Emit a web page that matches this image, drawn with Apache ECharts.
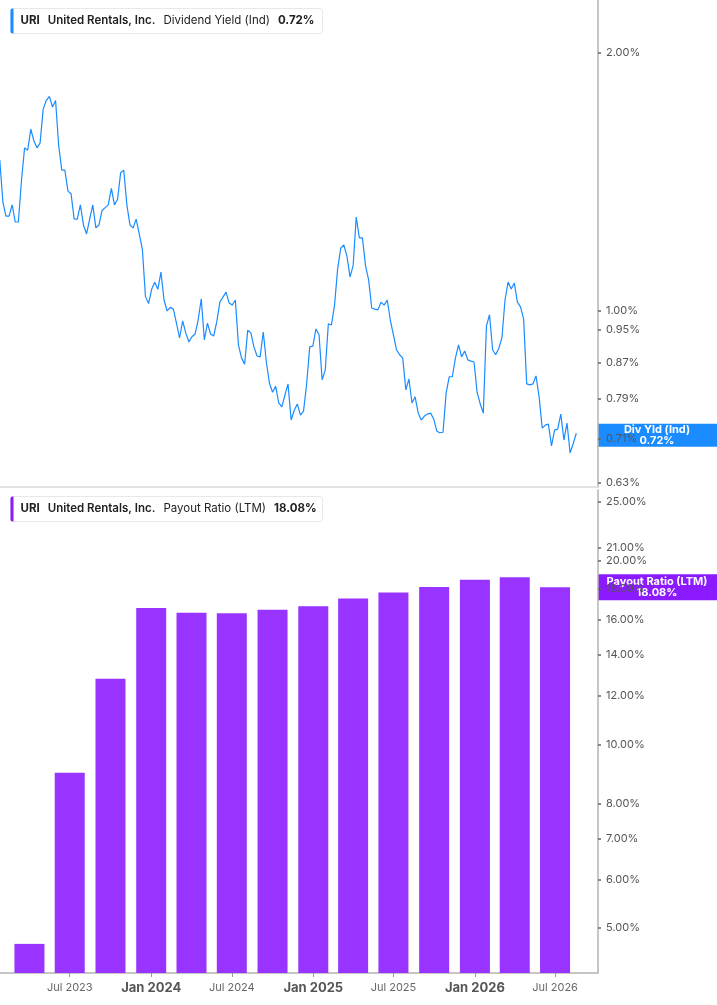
<!DOCTYPE html>
<html>
<head>
<meta charset="utf-8">
<script src="https://cdn.jsdelivr.net/npm/echarts@6/dist/echarts.min.js"></script>
<style>
  html, body { margin: 0; padding: 0; background: #fff; }
  #main { width: 717px; height: 1005px; }
</style>
</head>
<body>
<div id="main"></div>
<script>
// 股息率 (Ind)，每周一个点，从 2023-01-24 起
const yieldStart = '2023-01-24';
const yieldValues = [
  1.50, 1.34, 1.29, 1.29, 1.33, 1.27, 1.27, 1.42, 1.55, 1.54,
  1.63, 1.58, 1.55, 1.57, 1.72, 1.76, 1.78, 1.73, 1.76, 1.56,
  1.46, 1.46, 1.38, 1.37, 1.28, 1.28, 1.33, 1.26, 1.23, 1.28,
  1.33, 1.25, 1.26, 1.31, 1.32, 1.33, 1.39, 1.33, 1.35, 1.45,
  1.46, 1.33, 1.26, 1.25, 1.28, 1.23, 1.18, 1.04, 1.02, 1.06,
  1.08, 1.06, 1.11, 1.03, 1.00, 1.01, 1.005, 0.968, 0.930, 0.974,
  0.943, 0.920, 0.933, 0.940, 0.976, 1.033, 0.925, 0.968, 0.940, 0.935,
  0.971, 1.024, 1.038, 1.052, 1.022, 1.016, 1.030, 0.913, 0.881, 0.867,
  0.950, 0.943, 0.908, 0.886, 0.884, 0.945, 0.872, 0.824, 0.804, 0.817,
  0.781, 0.773, 0.798, 0.822, 0.746, 0.766, 0.779, 0.756, 0.764, 0.822,
  0.908, 0.910, 0.953, 0.938, 0.831, 0.853, 0.966, 0.963, 1.016, 1.119,
  1.184, 1.194, 1.159, 1.096, 1.129, 1.287, 1.217, 1.217, 1.129, 1.087,
  1.008, 1.005, 1.003, 1.024, 1.016, 1.030, 0.976, 0.938, 0.901, 0.889,
  0.881, 0.809, 0.833, 0.781, 0.794, 0.760, 0.746, 0.754, 0.758, 0.760,
  0.748, 0.724, 0.721, 0.722, 0.802, 0.838, 0.838, 0.881, 0.913, 0.884,
  0.898, 0.877, 0.874, 0.872, 0.804, 0.779, 0.760, 0.960, 0.990, 0.901,
  0.889, 0.905, 0.930, 1.030, 1.081, 1.061, 1.078, 1.024, 1.011, 0.979,
  0.822, 0.820, 0.822, 0.840, 0.794, 0.730, 0.736, 0.738, 0.696, 0.726,
  0.728, 0.758, 0.707, 0.740, 0.683, 0.700, 0.72
];

// 派息率 (LTM)，季度
const payoutDates = [
  '2023-04-01', '2023-07-01', '2023-10-01', '2024-01-01', '2024-04-01',
  '2024-07-01', '2024-10-01', '2025-01-01', '2025-04-01', '2025-07-01',
  '2025-10-01', '2026-01-01', '2026-04-01', '2026-07-01'
];
const payoutValues = [
  4.71, 8.98, 12.81, 16.73, 16.42, 16.39, 16.62,
  16.83, 17.33, 17.73, 18.11, 18.60, 18.78, 18.08
];

// 刻度
const yieldTicks = [2.00, 1.00, 0.95, 0.87, 0.79, 0.71, 0.63];
const payoutTicks = [25, 21, 20, 18, 16, 14, 12, 10, 8, 7, 6, 5];
const timeTicks = [
  '2023-07-01', '2024-01-01', '2024-07-01', '2025-01-01',
  '2025-07-01', '2026-01-01', '2026-07-01'
];
const monthNames = ['Jan', 'Feb', 'Mar', 'Apr', 'May', 'Jun', 'Jul', 'Aug', 'Sep', 'Oct', 'Nov', 'Dec'];

const lastYield = 0.72;
const lastPayout = 18.08;

const BLUE = '#1a8cff';
const PURPLE = '#9933ff';
const PURPLE_DARK = '#8c1aff';
const FONT = 'Inter, "Noto Sans", sans-serif';

const xMin = '2023-01-24 12:00';
const xMax = '2026-10-06';

let chart = echarts.init(document.getElementById('main'));

function ts(d) {
  return echarts.time.parse(d).getTime();
}

function yieldData() {
  let start = ts(yieldStart);
  let list = [];
  for (let i = 0; i < yieldValues.length; i++) {
    list.push([start + i * 7 * 86400000, yieldValues[i]]);
  }
  return list;
}

function pctLabel(v) {
  return Number(v).toFixed(2) + '%';
}

function rightAxis(gridIndex, min, max, ticks) {
  return {
    type: 'log',
    gridIndex: gridIndex,
    position: 'right',
    min: min,
    max: max,
    axisLine: { show: true, lineStyle: { color: '#b3b3b3', width: 1.5 } },
    axisTick: { show: true, length: 3, customValues: ticks, lineStyle: { color: '#666', width: 1.5 } },
    axisLabel: {
      customValues: ticks,
      formatter: pctLabel,
      color: '#555',
      fontSize: 11,
      fontFamily: FONT,
      margin: 8
    },
    splitLine: { show: false },
    minorTick: { show: false }
  };
}

function headerBox(top, color, name, value) {
  return {
    type: 'group',
    left: 10,
    top: top,
    z: 100,
    children: [
      {
        type: 'rect',
        shape: { x: 0, y: 0, width: 312, height: 25, r: 3 },
        style: { fill: '#fff', stroke: '#e8e8e8', lineWidth: 1 }
      },
      {
        type: 'rect',
        shape: { x: 0, y: 0, width: 3, height: 25, r: [2, 0, 0, 2] },
        style: { fill: color }
      },
      {
        type: 'text',
        x: 10,
        y: 12.5,
        style: {
          text: '{a|URI}{b|United Rentals, Inc.}{c|' + name + '}{d|' + value + '}',
          verticalAlign: 'middle',
          rich: {
            a: { fontFamily: FONT, fontSize: 11.5, fontWeight: 'bold', fill: '#222', padding: [0, 8, 0, 0] },
            b: { fontFamily: FONT, fontSize: 11.5, fontWeight: 600, fill: '#222', padding: [0, 8, 0, 0] },
            c: { fontFamily: FONT, fontSize: 11.5, fill: '#222', padding: [0, 8, 0, 0] },
            d: { fontFamily: FONT, fontSize: 11.5, fontWeight: 'bold', fill: '#222' }
          }
        }
      }
    ]
  };
}

function valueTag(y, h, color, name, value) {
  return {
    type: 'group',
    x: 598,
    y: y - h / 2,
    z: 100,
    children: [
      {
        type: 'rect',
        shape: { x: 0, y: 0, width: 119, height: h },
        style: { fill: color }
      },
      {
        type: 'text',
        x: 59,
        y: h / 2,
        style: {
          text: name + '\n' + value,
          align: 'center',
          verticalAlign: 'middle',
          fontFamily: FONT,
          fontSize: 11,
          fontWeight: 'bold',
          lineHeight: 11,
          fill: '#fff'
        }
      }
    ]
  };
}

let option = {
  animation: false,
  backgroundColor: '#fff',
  grid: [
    { left: 0, right: 119, top: 0, height: 487 },
    { left: 0, right: 119, top: 490, bottom: 32 }
  ],
  xAxis: [
    {
      type: 'value',
      gridIndex: 0,
      min: ts(xMin),
      max: ts(xMax),
      axisLine: { show: true, lineStyle: { color: '#dcdcdc', width: 1.5 } },
      axisTick: { show: false },
      axisLabel: { show: false },
      splitLine: { show: false }
    },
    {
      type: 'value',
      gridIndex: 1,
      min: ts(xMin),
      max: ts(xMax),
      axisLine: { show: true, lineStyle: { color: '#b3b3b3', width: 1.5 } },
      axisTick: { show: true, length: 4, customValues: timeTicks.map(ts), lineStyle: { color: '#999' } },
      axisLabel: {
        customValues: timeTicks.map(ts),
        margin: 9,
        formatter: (value) => {
          let d = new Date(value);
          let txt = monthNames[d.getMonth()] + ' ' + d.getFullYear();
          return d.getMonth() === 0 ? '{b|' + txt + '}' : '{n|' + txt + '}';
        },
        rich: {
          b: { fontFamily: FONT, fontSize: 13, fontWeight: 'bold', color: '#555' },
          n: { fontFamily: FONT, fontSize: 11, color: '#666' }
        }
      },
      splitLine: { show: false }
    }
  ],
  yAxis: [
    rightAxis(0, 0.6232, 2.306, yieldTicks),
    rightAxis(1, 4.22, 26.1, payoutTicks)
  ],
  series: [
    {
      name: 'Div Yld (Ind)',
      type: 'line',
      xAxisIndex: 0,
      yAxisIndex: 0,
      data: yieldData(),
      showSymbol: false,
      lineStyle: { color: BLUE, width: 1.2 },
      itemStyle: { color: BLUE }
    },
    {
      name: 'Payout Ratio (LTM)',
      type: 'bar',
      xAxisIndex: 1,
      yAxisIndex: 1,
      barWidth: 30,
      clip: true,
      data: payoutDates.map((d, i) => [ts(d), payoutValues[i]]),
      itemStyle: { color: PURPLE }
    }
  ]
};

chart.setOption(option);

// 右侧标签 + 顶部说明框
let yYield = chart.convertToPixel({ yAxisIndex: 0 }, lastYield);
let yPayout = chart.convertToPixel({ yAxisIndex: 1 }, lastPayout);
chart.setOption({
  graphic: [
    headerBox(8, BLUE, 'Dividend Yield (Ind)', pctLabel(lastYield)),
    headerBox(496, PURPLE_DARK, 'Payout Ratio (LTM)', pctLabel(lastPayout)),
    valueTag(yYield + 2, 23, BLUE, 'Div Yld (Ind)', pctLabel(lastYield)),
    valueTag(yPayout, 26, PURPLE_DARK, 'Payout Ratio (LTM)', pctLabel(lastPayout))
  ]
});
</script>
</body>
</html>
